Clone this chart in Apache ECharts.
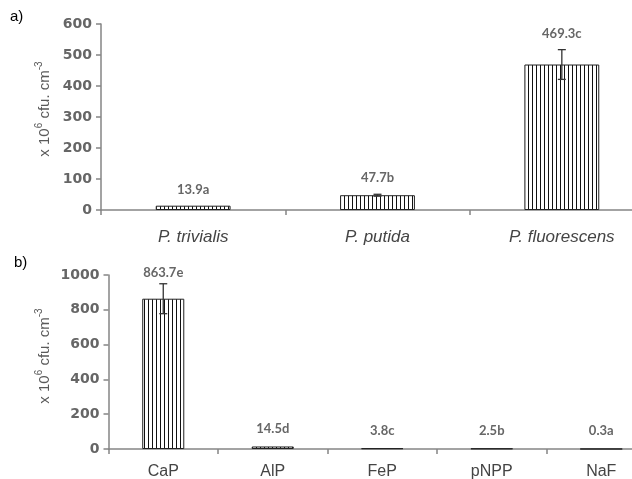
<!DOCTYPE html>
<html><head><meta charset="utf-8">
<script src="https://cdn.jsdelivr.net/npm/echarts/dist/echarts.min.js"></script>
<style>html,body{margin:0;padding:0;background:#fff}#c{width:632px;height:479px}</style>
</head><body><div id="c"></div>
<script>
// ---- data ----
const speciesCategories = ['P. trivialis', 'P. putida', 'P. fluorescens'];
const speciesValues = [13.9, 47.7, 469.3];
const speciesErrors = [0, 3, 48];
const speciesLabels = ['13.9a', '47.7b', '469.3c'];
const speciesAxis = { min: 0, max: 600, interval: 100 };

const sourceCategories = ['CaP', 'AlP', 'FeP', 'pNPP', 'NaF'];
const sourceValues = [863.7, 14.5, 3.8, 2.5, 0.3];
const sourceErrors = [86, 0, 0, 0, 0];
const sourceLabels = ['863.7e', '14.5d', '3.8c', '2.5b', '0.3a'];
const sourceAxis = { min: 0, max: 1000, interval: 200 };

const yName = '{a|x 10}{s|6}{a| cfu. cm}{s|-3}';

// ---- styles ----
function stripe() {
  const c = document.createElement('canvas');
  c.width = 4; c.height = 4;
  const g = c.getContext('2d');
  g.fillStyle = '#fff'; g.fillRect(0, 0, 4, 4);
  g.fillStyle = '#111'; g.fillRect(0, 0, 1, 4);
  return c;
}
const pattern = { image: stripe(), repeat: 'repeat' };
const axisGray = '#858585';
const textGray = '#5a5a5a';
const nameRich = {
  a: { fontSize: 15, fontFamily: '"Liberation Sans", Arial, sans-serif', fill: textGray, lineHeight: 18, verticalAlign: 'bottom' },
  s: { fontSize: 10, fontFamily: '"Liberation Sans", Arial, sans-serif', fill: textGray, lineHeight: 18, verticalAlign: 'top', padding: [0, 0, 6, 0] }
};

function errorSeries(idx, values, errors, labels, offErr, offNo) {
  return {
    type: 'custom', xAxisIndex: idx, yAxisIndex: idx, z: 5,
    data: values.map((v, i) => [i, v, errors[i]]),
    renderItem: function (params, api) {
      const i = api.value(0), v = api.value(1), e = api.value(2);
      const top = api.coord([i, v + e]);
      const bot = api.coord([i, v - e]);
      const children = [];
      const st = { stroke: '#333', lineWidth: 1.3 };
      if (e > 0) {
        children.push({ type: 'line', shape: { x1: top[0], y1: top[1], x2: bot[0], y2: bot[1] }, style: st });
        children.push({ type: 'line', shape: { x1: top[0] - 4, y1: top[1], x2: top[0] + 4, y2: top[1] }, style: st });
        children.push({ type: 'line', shape: { x1: bot[0] - 4, y1: bot[1], x2: bot[0] + 4, y2: bot[1] }, style: st });
      }
      children.push({
        type: 'text',
        style: {
          text: labels[params.dataIndex], x: top[0], y: top[1] - (e > 0 ? offErr : offNo),
          align: 'center', verticalAlign: 'middle',
          font: 'bold 13px Lato, "Liberation Sans", sans-serif', fill: '#666'
        }
      });
      return { type: 'group', children: children };
    }
  };
}

function xAxis(idx, cats, italic, size, margin) {
  return {
    type: 'category', gridIndex: idx, data: cats,
    axisLine: { lineStyle: { color: axisGray, width: 1.5 } },
    axisTick: { show: true, length: 5, lineStyle: { color: axisGray, width: 1.5 } },
    axisLabel: { color: '#444', fontSize: size, fontStyle: italic ? 'italic' : 'normal',
      fontFamily: '"Liberation Sans", Arial, sans-serif', margin: margin },
    splitLine: { show: false }
  };
}
function yAxis(idx, ax) {
  return {
    type: 'value', gridIndex: idx, min: ax.min, max: ax.max, interval: ax.interval,
    axisLine: { show: true, lineStyle: { color: axisGray, width: 1.5 } },
    axisTick: { show: true, length: 5, lineStyle: { color: axisGray, width: 1.5 } },
    axisLabel: { color: '#666', fontSize: 14, fontWeight: 'bold', fontFamily: '"DejaVu Sans", sans-serif', margin: 9,
      formatter: function (v) { return String(v); } },
    splitLine: { show: false }
  };
}

const chart = echarts.init(document.getElementById('c'), null, { renderer: 'canvas' });
chart.setOption({
  animation: false,
  backgroundColor: '#fff',
  grid: [
    { left: 101, top: 24, width: 553, height: 186, containLabel: false, outerBoundsMode: 'none' },
    { left: 108.5, top: 275, width: 547.5, height: 174, containLabel: false, outerBoundsMode: 'none' }
  ],
  xAxis: [xAxis(0, speciesCategories, true, 17, 19), xAxis(1, sourceCategories, false, 16, 15)],
  yAxis: [yAxis(0, speciesAxis), yAxis(1, sourceAxis)],
  graphic: [
    { type: 'text', left: 10, top: 9, style: { text: 'a)', font: '15px "Liberation Sans", Arial, sans-serif', fill: '#000' } },
    { type: 'text', left: 14, top: 255, style: { text: 'b)', font: '15px "Liberation Sans", Arial, sans-serif', fill: '#000' } },
    { type: 'text', x: 43, y: 109, rotation: Math.PI / 2,
      style: { text: yName, align: 'center', verticalAlign: 'middle', rich: nameRich } },
    { type: 'text', x: 43, y: 356, rotation: Math.PI / 2,
      style: { text: yName, align: 'center', verticalAlign: 'middle', rich: nameRich } }
  ],
  series: [
    { type: 'bar', xAxisIndex: 0, yAxisIndex: 0, data: speciesValues, barWidth: '40.6%',
      itemStyle: { color: pattern, borderColor: '#222', borderWidth: 1 } },
    errorSeries(0, speciesValues, speciesErrors, speciesLabels, 16, 16),
    { type: 'bar', xAxisIndex: 1, yAxisIndex: 1, data: sourceValues, barWidth: '38.4%',
      itemStyle: { color: pattern, borderColor: '#222', borderWidth: 1 } },
    errorSeries(1, sourceValues, sourceErrors, sourceLabels, 11, 18)
  ]
});
</script></body></html>
